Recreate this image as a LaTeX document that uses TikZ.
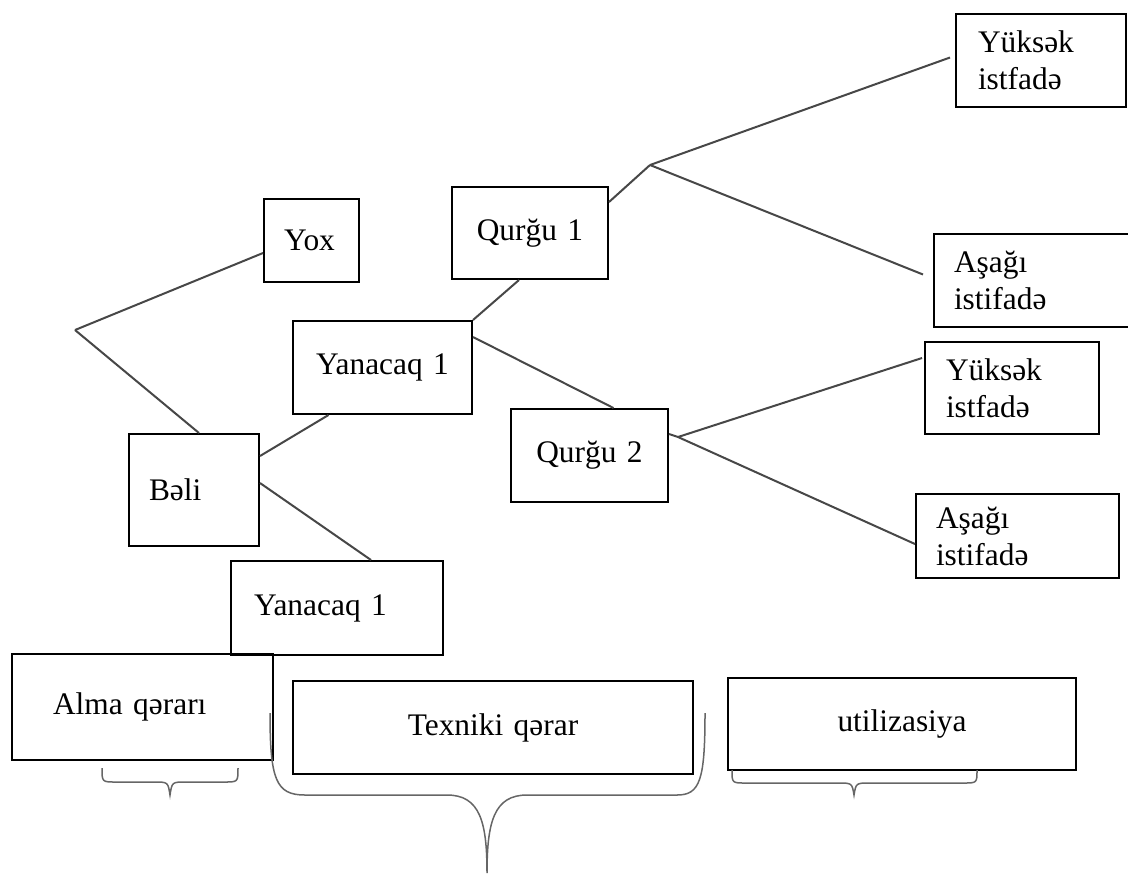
\documentclass[tikz,border=0pt]{standalone}
\usepackage{fontspec}
\setmainfont{Liberation Serif}
\usepackage{tikz}

\begin{document}
\begin{tikzpicture}[x = 0.5pt, y = -0.5pt,
  box/.style = {draw, line width = 1pt, rectangle, anchor = north west,
    inner ysep = 0pt, align = left, font = \fontsize{15.7}{18.5}\selectfont},
  branch/.style = {draw = black!72, line width = 1pt},
  brace/.style = {draw = black!60, line width = 0.75pt}]
\useasboundingbox (0,0) rectangle (1128,875);
% tree
\coordinate (root) at (75,330);
\coordinate (j_1) at (650,165);
\coordinate (j_2) at (678,437);
\node [box, minimum width = 47.5pt, minimum height = 41.5pt, inner xsep = 10pt, text width = 27.5pt] (yox) at (263,198) {Yox};
\node [box, minimum width = 65pt, minimum height = 56pt, inner xsep = 10pt, text width = 45pt] (beli) at (128,433) {Bəli};
\node [box, align = center, minimum width = 89.5pt, minimum height = 46.5pt, inner xsep = 10pt, text width = 69.5pt] (yan_1) at (292,320) {Yanacaq 1};
\node [box, minimum width = 106pt, minimum height = 47pt, inner xsep = 11.5pt, text width = 83pt] (yan_2) at (230,560) {Yanacaq 1};
\node [box, align = center, minimum width = 78pt, minimum height = 46pt, inner xsep = 8pt, text width = 62pt] (qur_1) at (451,186) {Qurğu 1};
\node [box, align = center, minimum width = 78.5pt, minimum height = 46.5pt, inner xsep = 8pt, text width = 62.5pt] (qur_2) at (510,408) {Qurğu 2};
\node [box, minimum width = 85pt, minimum height = 46.5pt, inner xsep = 11pt, text width = 63pt] (yuk_1) at (955,13) {Yüksək\\istfadə};
\node [box, minimum width = 101pt, minimum height = 46.5pt, inner xsep = 10pt, text width = 81pt] (asa_1) at (933,233) {Aşağı\\istifadə};
\node [box, minimum width = 87pt, minimum height = 46pt, inner xsep = 10.5pt, text width = 66pt] (yuk_2) at (924,341) {Yüksək\\istfadə};
\node [box, minimum width = 101.5pt, minimum height = 42pt, inner xsep = 10pt, text width = 81.5pt] (asa_2) at (915,493) {Aşağı\\istifadə};
% stages
\node [box, minimum width = 130.5pt, minimum height = 53pt, inner xsep = 20.5pt, text width = 89.5pt] (alma) at (11,653) {Alma qərarı};
\node [box, align = center, minimum width = 200pt, minimum height = 46.5pt, inner xsep = 20pt, text width = 160pt] (tex) at (292,680) {Texniki qərar};
\node [box, align = center, minimum width = 174pt, minimum height = 46pt, inner xsep = 54.75pt, text width = 64.5pt] (util) at (727,677) {utilizasiya};
\path [branch]
(root) edge ([yshift = -6.25pt]yox.west)
       edge ([xshift = 2.5pt]beli.north)
([yshift = 17pt]beli.east) edge ([xshift = -27pt]yan_1.south)
([yshift = 3.5pt]beli.east) edge ([xshift = 17pt]yan_2.north)
(yan_1.north east) edge ([xshift = -5.5pt]qur_1.south)
([yshift = -8.5pt]yan_1.north east) edge ([xshift = 12pt]qur_2.north)
([yshift = -8pt]qur_1.north east) edge (j_1)
(j_1) edge ([xshift = -2.5pt, yshift = 1.5pt]yuk_1.west)
      edge ([xshift = -5pt, yshift = 3pt]asa_1.west)
([yshift = 10.75pt]qur_2.east) edge (j_2)
(j_2) edge ([xshift = -1pt, yshift = 15pt]yuk_2.west)
      edge ([yshift = -4pt]asa_2.west);
% braces
\draw [brace] (102,768) .. controls (102,782) .. (116,782) -- (154,782)
  .. controls (168,782) .. (170,795) .. controls (172,782) .. (186,782)
  -- (224,782) .. controls (238,782) .. (238,768);
\draw [brace] (270,713) .. controls (270,780) and (276,795) .. (305,795) -- (447,795)
  .. controls (480,795) and (487,822) .. (487,873)
  .. controls (487,822) and (494,795) .. (527,795) -- (677,795)
  .. controls (700,795) and (705,780) .. (705,713);
\draw [brace] (732,770) .. controls (732,783) .. (746,783) -- (838,783)
  .. controls (852,783) .. (854,795) .. controls (856,783) .. (870,783)
  -- (963,783) .. controls (977,783) .. (977,770);
\end{tikzpicture}
\end{document}
